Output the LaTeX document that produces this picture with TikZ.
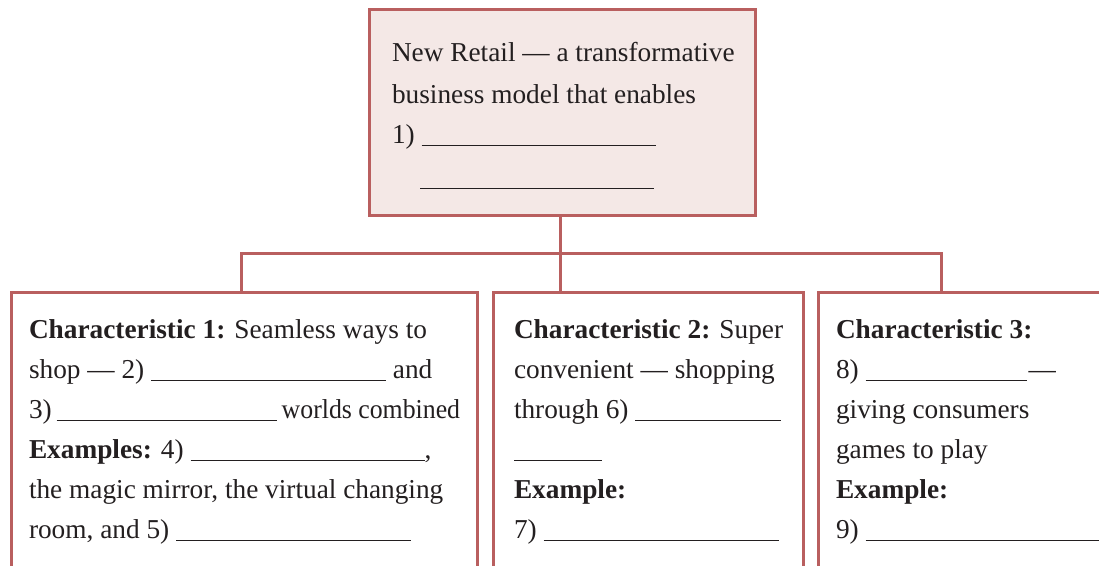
\documentclass[tikz,border=0pt]{standalone}
\usepackage{fontspec}
\usepackage{graphicx}
\setmainfont{Liberation Serif}
\definecolor{edge}{RGB}{185,95,95}
\definecolor{topfill}{RGB}{244,232,230}
\definecolor{ink}{RGB}{35,31,32}
\newcommand\blank[1]{\rule[-3pt]{#1pt}{1.3pt}}
\begin{document}
\begin{tikzpicture}[x=1pt,y=-1pt,
  box/.style={draw=edge, line width=3pt, anchor=north west, inner sep=0pt, outer sep=0pt},
  conn/.style={draw=edge, line width=3pt},
  txt/.style={anchor=base west, inner sep=0pt, outer sep=0pt, text=ink, font=\fontsize{27.3}{40}\selectfont}]
\useasboundingbox (0,0) rectangle (1099,565);
\clip (0,0) rectangle (1099,565);
% boxes
\node[box, fill=topfill, minimum width=386pt, minimum height=206pt] (top) at (369,9) {};
\node[box, fill=white, minimum width=466pt, minimum height=330pt] (b1) at (11,292) {};
\node[box, fill=white, minimum width=310pt, minimum height=330pt] (b2) at (493,292) {};
\node[box, fill=white, minimum width=320pt, minimum height=330pt] (b3) at (818,292) {};
% connectors
\coordinate (j1) at (241,253);
\coordinate (j2) at (560,253);
\coordinate (j3) at (941,253);
\draw[conn] (j2 |- top.south) -- (j2);
\draw[conn] (j1 |- b1.north) -- (j1) -- (j3) -- (j3 |- b3.north);
\draw[conn] (j2) -- (j2 |- b2.north);
% top text
\node[txt] (t1) at (392,61) {New Retail — a transformative};
\node[txt] (t2) at (392,103) {business model that enables};
\node[txt] (t3) at (392,143) {1) \blank{234}};
\node[txt] (t4) at (420,186) {\blank{234}};
% box 1 text
\node[txt] (a1) at (29,338) {\textbf{Characteristic 1:} Seamless ways to};
\node[txt] (a2) at (29,378) {shop — 2) \blank{235} and};
\node[txt] (a3) at (29,418) {3)\kern5pt\blank{220}\kern5pt\scalebox{0.945}[1]{worlds combined}};
\node[txt] (a4) at (29,458) {\textbf{Examples:} 4) \blank{234},};
\node[txt] (a5) at (29,498) {the magic mirror, the virtual changing};
\node[txt] (a6) at (29,538) {room, and 5) \blank{235}};
% box 2 text
\node[txt] (c1) at (514,338) {\textbf{Characteristic 2:} Super};
\node[txt] (c2) at (514,378) {convenient — shopping};
\node[txt] (c3) at (514,418) {through 6) \blank{146}};
\node[txt] (c4) at (514,458) {\blank{88}};
\node[txt] (c5) at (514,498) {\textbf{Example:}};
\node[txt] (c6) at (514,538) {7) \blank{235}};
% box 3 text
\node[txt] (d1) at (836,338) {\textbf{Characteristic 3:}};
\node[txt] (d2) at (836,378) {8) \blank{161}\kern2pt—};
\node[txt] (d3) at (836,418) {giving consumers};
\node[txt] (d4) at (836,458) {games to play};
\node[txt] (d5) at (836,498) {\textbf{Example:}};
\node[txt] (d6) at (836,538) {9) \blank{250}};
\end{tikzpicture}
\end{document}
